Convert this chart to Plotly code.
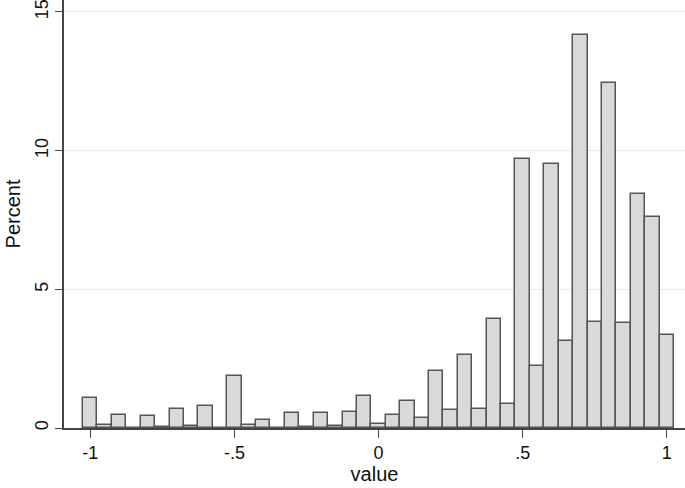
import plotly.graph_objects as go

bin_centers = [round(-1 + 0.05 * i, 2) for i in range(41)]
percent = [1.08, 0.12, 0.48, 0.0, 0.44, 0.05, 0.67, 0.08, 0.78, 0.0,
           1.88, 0.12, 0.30, 0.0, 0.54, 0.03, 0.54, 0.08, 0.57, 1.15,
           0.13, 0.48, 0.97, 0.37, 2.06, 0.64, 2.62, 0.67, 3.92, 0.86,
           9.68, 2.22, 9.52, 3.14, 14.17, 3.81, 12.45, 3.77, 8.44, 7.59,
           3.37]
x_ticks = [-1, -0.5, 0, 0.5, 1]
x_tick_labels = ["-1", "-.5", "0", ".5", "1"]
y_ticks = [0, 5, 10, 15]
y_tick_labels = ["0", "5", "10", "15"]

fig = go.Figure()
fig.add_trace(go.Bar(
    x=bin_centers, y=percent, width=0.05,
    marker=dict(color="#d9d9d9", line=dict(color="#555555", width=1.5)),
    hoverinfo="x+y",
))

font = "Liberation Sans, Arial, Helvetica, sans-serif"
fig.update_layout(
    width=685, height=488,
    margin=dict(l=64, r=0, t=0, b=60, autoexpand=False),
    paper_bgcolor="white", plot_bgcolor="white",
    showlegend=False, bargap=0,
    font=dict(family=font, color="#111111", size=18),
    xaxis=dict(
        range=[-1.091, 1.063], automargin=False,
        tickvals=x_ticks, ticktext=x_tick_labels,
        ticks="outside", ticklen=8, tickwidth=1.3, tickcolor="#444444",
        showline=True, linecolor="#444444", linewidth=1.5,
        showgrid=False, zeroline=False, ticklabeloverflow="allow",
        title=dict(text="value", font=dict(size=20), standoff=4),
        tickfont=dict(size=18),
    ),
    yaxis=dict(
        range=[0, 15.43], automargin=False,
        tickvals=y_ticks, ticktext=y_tick_labels, tickangle=-90,
        ticks="outside", ticklen=7, tickwidth=1.3, tickcolor="#444444",
        showline=True, linecolor="#444444", linewidth=1.5,
        showgrid=True, gridcolor="#ebebeb", gridwidth=1.2,
        zeroline=False, ticklabeloverflow="allow",
        title=dict(text="Percent", font=dict(size=20), standoff=6),
        tickfont=dict(size=18),
    ),
)
fig.write_html("out.html",
               config={"displayModeBar": False},
               post_script="document.body.style.margin='0';document.body.style.overflow='hidden';")
